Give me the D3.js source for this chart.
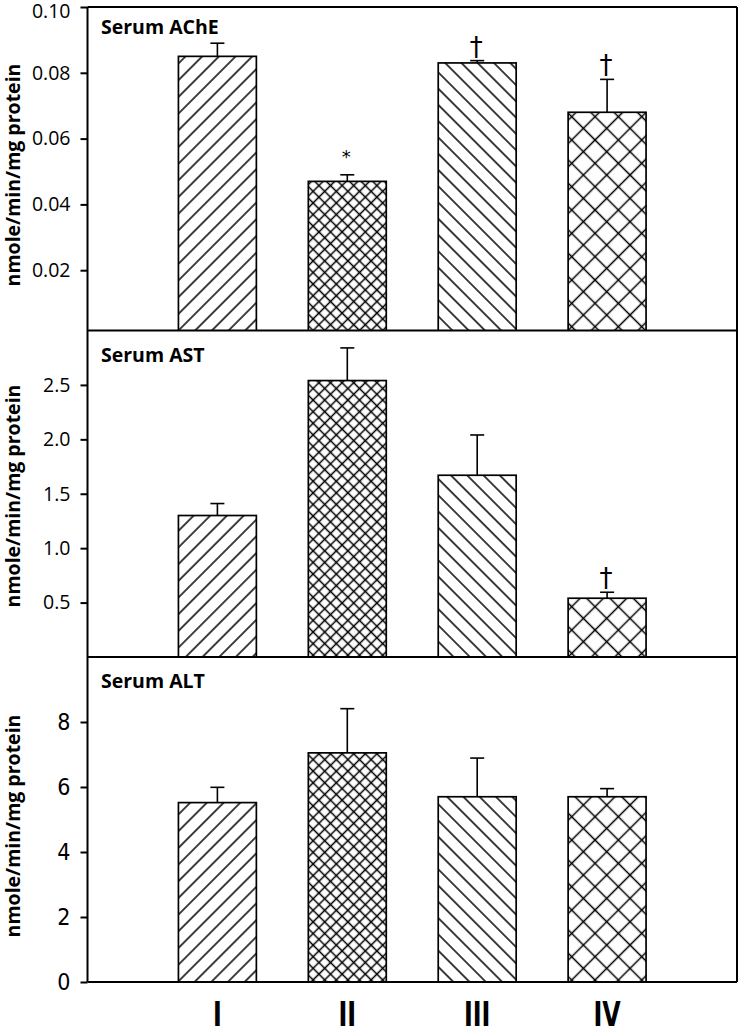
<!DOCTYPE html>
<html>
<head>
<meta charset="utf-8">
<script src="https://cdn.jsdelivr.net/npm/d3@7"></script>
<style>
  html, body { margin: 0; padding: 0; background: #fff; }
  svg { display: block; }
</style>
</head>
<body>
<svg id="chart" width="739" height="1026"></svg>
<script>
// ---------------- data ----------------
const groups = ["I", "II", "III", "IV"];
const panelTitles = ["Serum AChE", "Serum AST", "Serum ALT"];
const yAxisTitle = "nmole/min/mg protein";

const acheMean = [0.085, 0.047, 0.083, 0.068];
const acheErr  = [0.004, 0.002, 0.0007, 0.010];
const astMean  = [1.30, 2.54, 1.67, 0.54];
const astErr   = [0.11, 0.30, 0.37, 0.055];
const altMean  = [5.52, 7.05, 5.70, 5.70];
const altErr   = [0.47, 1.36, 1.19, 0.25];

const acheTicks = [0.02, 0.04, 0.06, 0.08, 0.10];
const astTicks  = [0.5, 1.0, 1.5, 2.0, 2.5];
const altTicks  = [0, 2, 4, 6, 8];

const acheDomain = [0, 0.10];
const astDomain  = [0, 3.0];
const altDomain  = [0, 10];

const acheMarks = ["", "*", "\u2020", "\u2020"];
const astMarks  = ["", "", "", "\u2020"];
const altMarks  = ["", "", "", ""];

// ---------------- layout ----------------
const svg = d3.select("#chart");
const X0 = 87.5, X1 = 737;
const panels = [
  { title: panelTitles[0], mean: acheMean, err: acheErr, ticks: acheTicks, domain: acheDomain, marks: acheMarks,
    fmt: d3.format(".2f"), top: 7, bottom: 330.5, zeroY: 336, font: "'Open Sans', sans-serif", fs: 19.5, titleCY: 175 },
  { title: panelTitles[1], mean: astMean, err: astErr, ticks: astTicks, domain: astDomain, marks: astMarks,
    fmt: d3.format(".1f"), top: 330.5, bottom: 657, zeroY: 657, font: "'Open Sans', sans-serif", fs: 19.5, titleCY: 496 },
  { title: panelTitles[2], mean: altMean, err: altErr, ticks: altTicks, domain: altDomain, marks: altMarks,
    fmt: d3.format("d"), top: 657, bottom: 982, zeroY: 982, font: "'Liberation Sans Narrow', 'DejaVu Sans Condensed', sans-serif", fs: 23, titleCY: 826 }
];

const step = (X1 - X0) / 5;
const x = d3.scaleBand().domain(groups)
  .range([X0 + step / 2, X1 - step / 2])
  .paddingInner(0.4).paddingOuter(0.2);

// ---------------- patterns ----------------
const defs = svg.append("defs");
function hatch(id, spacing, angle, cross) {
  const p = defs.append("pattern").attr("id", id)
    .attr("patternUnits", "userSpaceOnUse")
    .attr("width", spacing).attr("height", spacing)
    .attr("patternTransform", `rotate(${angle})`);
  p.append("rect").attr("width", spacing).attr("height", spacing).attr("fill", "#fff");
  p.append("line").attr("x1", spacing / 2).attr("x2", spacing / 2).attr("y1", -1).attr("y2", spacing + 1)
    .attr("stroke", "#000").attr("stroke-width", 1.5);
  if (cross) {
    p.append("line").attr("y1", spacing / 2).attr("y2", spacing / 2).attr("x1", -1).attr("x2", spacing + 1)
      .attr("stroke", "#000").attr("stroke-width", 1.5);
  }
}
hatch("pI", 11.8, 45, false);
hatch("pII", 8.2, 45, true);
hatch("pIII", 11.5, -45, false);
hatch("pIV", 16.5, 45, true);
const patternOf = { I: "url(#pI)", II: "url(#pII)", III: "url(#pIII)", IV: "url(#pIV)" };

// ---------------- panels ----------------
panels.forEach((P, i) => {
  const y = d3.scaleLinear().domain(P.domain).range([P.zeroY, P.top]);
  const g = svg.append("g");
  const clipId = "clip" + i;
  defs.append("clipPath").attr("id", clipId).append("rect")
    .attr("x", X0).attr("y", P.top).attr("width", X1 - X0).attr("height", P.bottom - P.top);

  const rows = groups.map((k, j) => ({ k, m: P.mean[j], e: P.err[j], mark: P.marks[j] }));
  const bars = g.append("g").attr("clip-path", `url(#${clipId})`);
  bars.selectAll("rect").data(rows).join("rect")
    .attr("x", d => x(d.k))
    .attr("width", x.bandwidth())
    .attr("y", d => y(d.m))
    .attr("height", d => y(P.domain[0]) - y(d.m))
    .attr("fill", d => patternOf[d.k])
    .attr("stroke", "#000").attr("stroke-width", 1.7);

  // error bars (upper only)
  const eb = g.append("g").attr("stroke", "#000").attr("stroke-width", 1.6);
  eb.selectAll("line.v").data(rows).join("line").attr("class", "v")
    .attr("x1", d => x(d.k) + x.bandwidth() / 2).attr("x2", d => x(d.k) + x.bandwidth() / 2)
    .attr("y1", d => y(d.m)).attr("y2", d => y(d.m + d.e));
  eb.selectAll("line.c").data(rows).join("line").attr("class", "c")
    .attr("x1", d => x(d.k) + x.bandwidth() / 2 - 7).attr("x2", d => x(d.k) + x.bandwidth() / 2 + 7)
    .attr("y1", d => y(d.m + d.e)).attr("y2", d => y(d.m + d.e));

  // significance marks
  g.selectAll("text.mark").data(rows.filter(d => d.mark)).join("text").attr("class", "mark")
    .attr("x", d => x(d.k) + x.bandwidth() / 2 - 1)
    .attr("y", d => y(d.m + d.e) - (d.mark === "*" ? 12 : 5))
    .attr("text-anchor", "middle")
    .attr("font-family", "'DejaVu Sans', sans-serif")
    .attr("font-size", d => d.mark === "*" ? 18 : 26)
    .text(d => d.mark);

  // y axis
  const ax = g.append("g").attr("transform", `translate(${X0},0)`)
    .call(d3.axisLeft(y).tickValues(P.ticks).tickFormat(P.fmt).tickSize(7).tickPadding(10));
  ax.select(".domain").remove();
  ax.selectAll(".tick line").attr("stroke", "#000").attr("stroke-width", 2);
  ax.selectAll(".tick text").attr("font-family", P.font).attr("font-size", P.fs).attr("fill", "#000");
  if (i === 0) {
    ax.selectAll(".tick text").filter(d => d === 0.10).attr("dy", "0.52em");
  }

  // panel title
  g.append("text").attr("x", 101).attr("y", P.top + (i === 0 ? 26.5 : 31))
    .attr("font-family", "'Open Sans', sans-serif").attr("font-weight", 700).attr("font-size", 19.5)
    .text(P.title);

  // y title
  g.append("text").attr("transform", `translate(20,${P.titleCY}) rotate(-90)`)
    .attr("text-anchor", "middle")
    .attr("font-family", "'Open Sans', sans-serif").attr("font-weight", 700).attr("font-size", 19.5)
    .text(yAxisTitle);

  // divider (panel bottom line)
  if (i < panels.length - 1) {
    svg.append("line").attr("x1", X0).attr("x2", X1).attr("y1", P.bottom).attr("y2", P.bottom)
      .attr("stroke", "#000").attr("stroke-width", 2);
  }
});

// frame
const frame = svg.append("g").attr("stroke", "#000").attr("stroke-width", 2).attr("fill", "none");
frame.append("line").attr("x1", X0).attr("x2", X1).attr("y1", 7).attr("y2", 7);
frame.append("line").attr("x1", X0).attr("x2", X0).attr("y1", 7).attr("y2", 982);
frame.append("line").attr("x1", X1).attr("x2", X1).attr("y1", 7).attr("y2", 982);
frame.append("line").attr("x1", X0).attr("x2", X1).attr("y1", 982).attr("y2", 982);

// x axis labels
const xa = svg.append("g").attr("transform", "translate(0,982)")
  .call(d3.axisBottom(x).tickSize(0).tickPadding(0));
xa.select(".domain").remove();
xa.selectAll(".tick text")
  .attr("dy", null).attr("y", 44)
  .attr("transform", "scale(0.8,1)")
  .attr("font-family", "'Liberation Sans Narrow', 'DejaVu Sans Condensed', sans-serif")
  .attr("font-weight", 700).attr("font-size", 33).attr("fill", "#000");
</script>
</body>
</html>
